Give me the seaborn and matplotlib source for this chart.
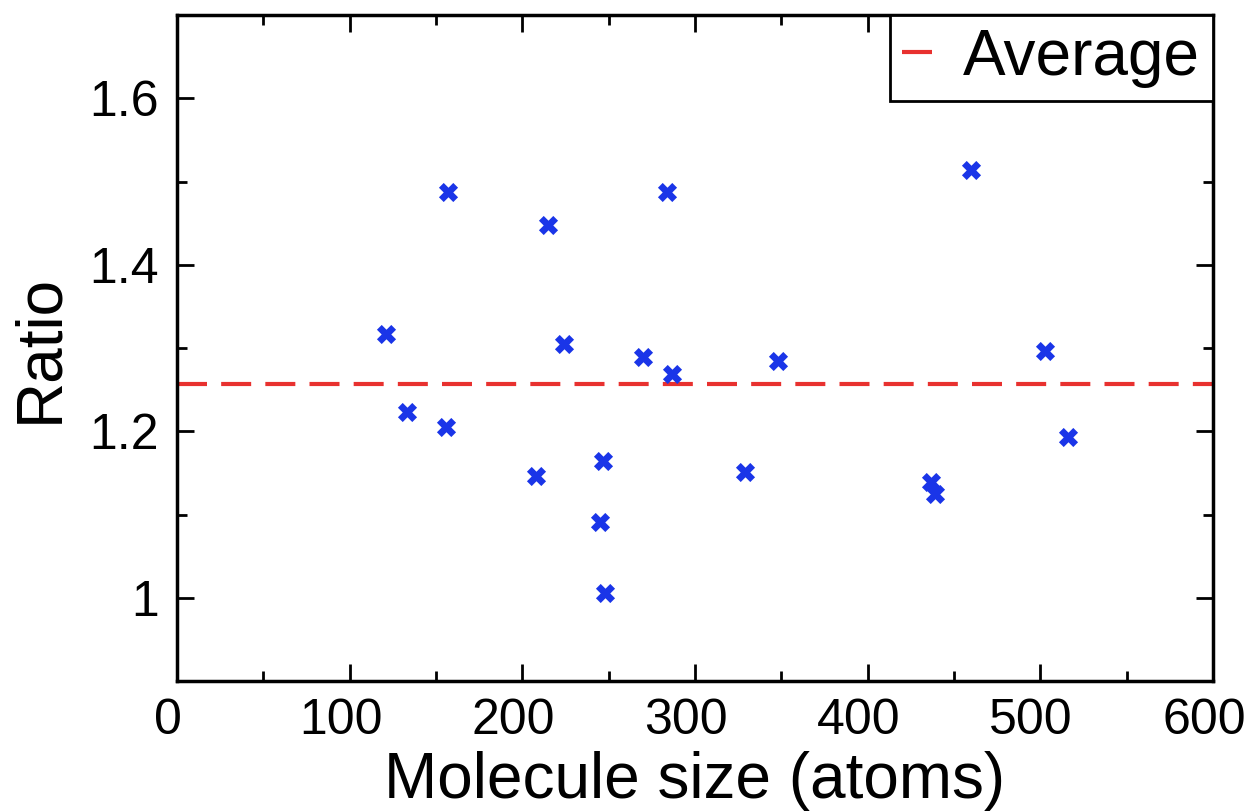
import numpy as np
import pandas as pd
import matplotlib
matplotlib.use("Agg")
import matplotlib.pyplot as plt
import matplotlib.transforms as mtransforms
import seaborn as sns
from matplotlib.ticker import MultipleLocator

# molecule size (atoms) and ratio
sizes = [121, 133, 157, 156, 215, 208, 224, 247, 245, 248,
         270, 284, 287, 329, 348, 437, 439, 460, 503, 516]
ratios = [1.317, 1.223, 1.488, 1.205, 1.448, 1.147, 1.305, 1.165, 1.091, 1.006,
          1.289, 1.487, 1.269, 1.151, 1.285, 1.139, 1.125, 1.514, 1.297, 1.193]
average = 1.257

df = pd.DataFrame({"size": sizes, "ratio": ratios})

sns.set_style("ticks")
plt.rcParams["font.family"] = ["Liberation Sans", "DejaVu Sans"]
plt.rcParams["text.color"] = "black"
plt.rcParams["axes.labelcolor"] = "black"

fig = plt.figure(figsize=(12.51, 8.11), dpi=100)
ax = fig.add_axes([0.1415, 0.160, 0.828, 0.8215])

sns.scatterplot(data=df, x="size", y="ratio", marker="X", color="#1a35e8",
                s=190, linewidth=0, ax=ax, zorder=3)
ax.axhline(average, color="#e8312f", lw=3, dashes=(7.2, 3.4), label="Average")

ax.set_xlim(0, 600)
ax.set_ylim(0.9, 1.7)
ax.set_xticks([0, 100, 200, 300, 400, 500, 600])
ax.set_yticks([1.0, 1.2, 1.4, 1.6])
ax.set_yticklabels(["1", "1.2", "1.4", "1.6"])
ax.xaxis.set_minor_locator(MultipleLocator(50))
ax.yaxis.set_minor_locator(MultipleLocator(0.1))
ax.tick_params(which="both", direction="in", top=True, right=True,
               width=2, labelsize=36, colors="black")
ax.tick_params(axis="y", pad=13)
ax.tick_params(axis="x", pad=12)
ax.tick_params(which="major", length=12)
ax.tick_params(which="minor", length=7)
for sp in ax.spines.values():
    sp.set_linewidth(2.5)
    sp.set_color("black")

# x tick labels sit a little left of their ticks in the original
shift = mtransforms.ScaledTranslation(-9 / 100, 0, fig.dpi_scale_trans)
for lbl in ax.get_xticklabels():
    lbl.set_transform(lbl.get_transform() + shift)

ax.set_xlabel("Molecule size (atoms)", fontsize=46, labelpad=5)
ax.set_ylabel("Ratio", fontsize=46, labelpad=14)

leg = ax.legend(loc="upper right", fontsize=46, frameon=True, fancybox=False,
                borderaxespad=0, handlelength=0.5, handletextpad=0.45,
                borderpad=0.2)
leg.get_frame().set_edgecolor("black")
leg.get_frame().set_linewidth(2)
leg.get_frame().set_alpha(1)

fig.savefig("out.png", dpi=100)
